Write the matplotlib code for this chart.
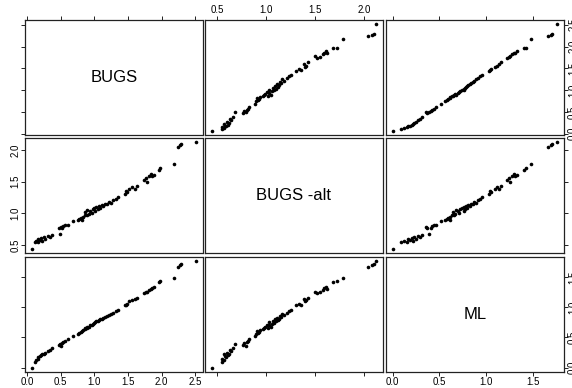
import numpy as np
import matplotlib
matplotlib.use("Agg")
import matplotlib.pyplot as plt

plt.rcParams['font.family'] = ['Liberation Sans', 'DejaVu Sans']

names = ["BUGS", "BUGS -alt", "ML"]

bugs = [0.07, 0.12, 0.14, 0.16, 0.17, 0.19, 0.21, 0.22, 0.25, 0.27,
        0.31, 0.34, 0.38, 0.48, 0.49, 0.50, 0.52, 0.54, 0.57, 0.61,
        0.68, 0.76, 0.78, 0.80, 0.82, 0.84, 0.86, 0.87, 0.89, 0.90,
        0.92, 0.94, 0.96, 0.98, 1.00, 1.01, 1.03, 1.05, 1.07, 1.09,
        1.11, 1.13, 1.16, 1.19, 1.22, 1.25, 1.28, 1.32, 1.35, 1.45,
        1.47, 1.49, 1.52, 1.56, 1.60, 1.64, 1.74, 1.77, 1.79, 1.82,
        1.84, 1.86, 1.89, 1.96, 1.97, 2.18, 2.25, 2.27, 2.29, 2.51]
bugs_alt = [0.44, 0.55, 0.57, 0.55, 0.59, 0.58, 0.61, 0.57, 0.62, 0.60,
            0.64, 0.63, 0.66, 0.76, 0.68, 0.79, 0.77, 0.80, 0.81, 0.82,
            0.88, 0.89, 0.91, 0.92, 0.90, 0.94, 0.97, 1.02, 0.98, 1.05,
            0.99, 1.03, 1.01, 1.06, 1.08, 1.03, 1.10, 1.07, 1.12, 1.09,
            1.13, 1.11, 1.15, 1.14, 1.18, 1.16, 1.21, 1.23, 1.25, 1.30,
            1.35, 1.33, 1.39, 1.41, 1.38, 1.43, 1.52, 1.55, 1.50, 1.58,
            1.62, 1.59, 1.61, 1.68, 1.72, 1.78, 2.04, 2.08, 2.10, 2.12]
ml = [0.00, 0.09, 0.12, 0.15, 0.17, 0.19, 0.21, 0.22, 0.23, 0.25,
      0.27, 0.29, 0.32, 0.37, 0.39, 0.36, 0.41, 0.42, 0.44, 0.47,
      0.52, 0.56, 0.58, 0.59, 0.61, 0.62, 0.64, 0.65, 0.66, 0.68,
      0.67, 0.70, 0.71, 0.72, 0.74, 0.76, 0.77, 0.78, 0.79, 0.80,
      0.81, 0.83, 0.84, 0.86, 0.87, 0.89, 0.91, 0.94, 0.96, 1.03,
      1.04, 1.05, 1.10, 1.12, 1.14, 1.16, 1.23, 1.25, 1.26, 1.28,
      1.30, 1.31, 1.33, 1.41, 1.43, 1.48, 1.66, 1.70, 1.71, 1.76]

ticks = [[0.0, 0.5, 1.0, 1.5, 2.0, 2.5],
         [0.5, 1.0, 1.5, 2.0],
         [0.0, 0.5, 1.0, 1.5]]

data = [np.array(bugs), np.array(bugs_alt), np.array(ml)]

# R-style axis range: data range padded by 4% each side
def rlim(v):
    r = v.max() - v.min()
    return v.min() - 0.04 * r, v.max() + 0.04 * r

lims = [rlim(v) for v in data]

W, H = 572, 388
fig = plt.figure(figsize=(W / 100, H / 100), dpi=100)

col_left = [25, 205, 386]
col_w = 177.5
row_top = [20, 138, 257]
row_h = 115

fs = 7
for i in range(3):          # row -> y variable
    for j in range(3):      # column -> x variable
        ax = fig.add_axes([col_left[j] / W, 1 - (row_top[i] + row_h) / H,
                           col_w / W, row_h / H])
        for s in ax.spines.values():
            s.set_linewidth(0.9)
            s.set_color('#222222')
        ax.set_xlim(lims[j])
        ax.set_ylim(lims[i])
        ax.set_xticks(ticks[j])
        ax.set_yticks(ticks[i])
        ax.xaxis.set_major_formatter(plt.FormatStrFormatter('%.1f'))
        ax.yaxis.set_major_formatter(plt.FormatStrFormatter('%.1f'))
        ax.tick_params(length=3, width=0.7, pad=0.3, labelsize=fs,
                       direction='out', color='#222222',
                       top=(i == 0), bottom=(i == 2),
                       left=(j == 0), right=(j == 2),
                       labeltop=(i == 0 and j == 1),
                       labelbottom=(i == 2 and j != 1),
                       labelleft=(j == 0 and i == 1),
                       labelright=(j == 2 and i != 1))
        for lab in ax.get_yticklabels():
            lab.set_rotation(90)
            lab.set_va('center')
        if i == j:
            ax.text(0.5, 0.5, names[i], transform=ax.transAxes,
                    ha='center', va='center', fontsize=12)
        else:
            ax.plot(data[j], data[i], 'o', color='black',
                    markersize=2.6, markeredgewidth=0)

fig.savefig('out.png', dpi=100)
